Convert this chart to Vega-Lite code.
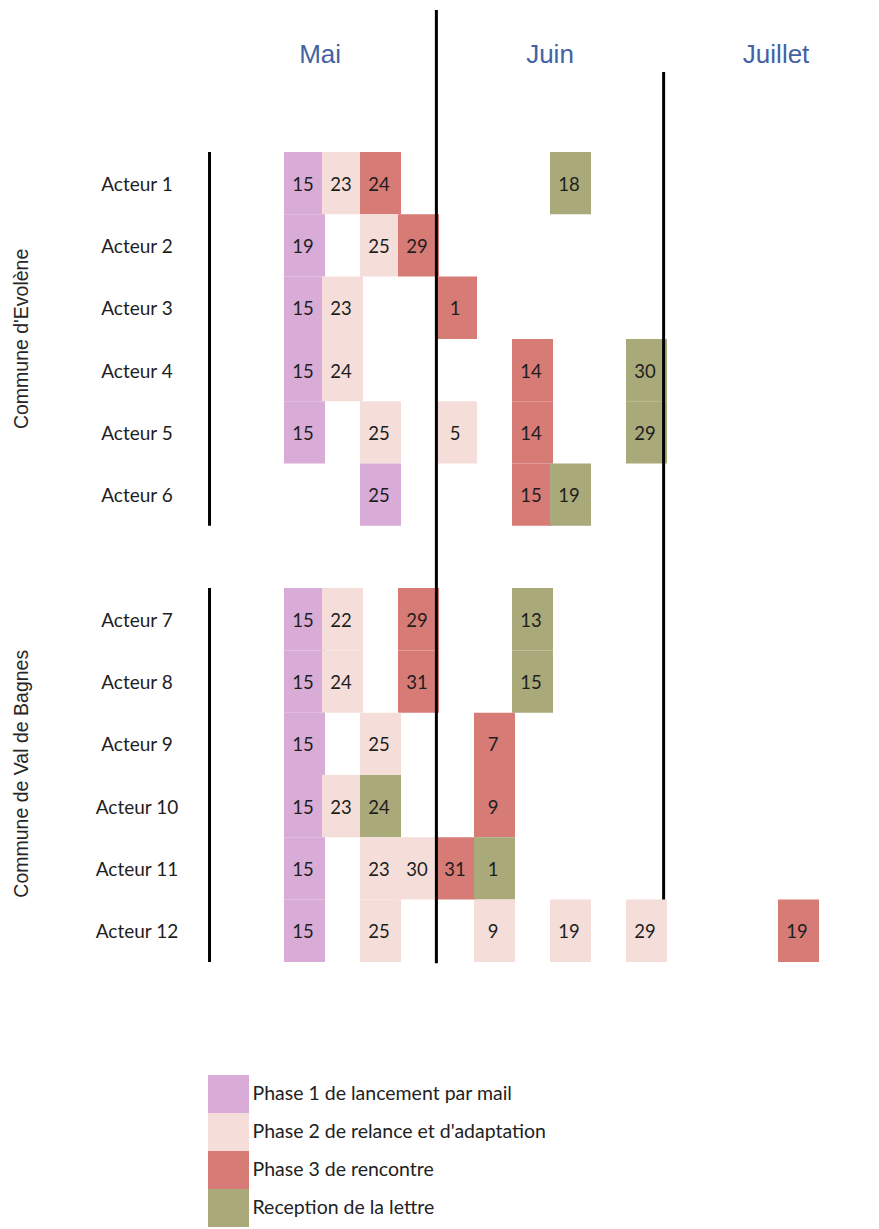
{
  "$schema": "https://vega.github.io/schema/vega-lite/v6.json",
  "width": 879,
  "height": 1229,
  "padding": 0,
  "autosize": {"type": "none"},
  "background": "white",
  "config": {
    "view": {"stroke": null},
    "legend": {
      "orient": "none",
      "legendX": 209.5,
      "legendY": 1075,
      "padding": 0,
      "title": null,
      "labelFont": "Lato",
      "labelFontSize": 19.5,
      "labelColor": "#222222",
      "labelOffset": 5,
      "labelLimit": 500,
      "symbolType": "M-1.079,-1H1.079V1H-1.079Z",
      "symbolSize": 1444,
      "symbolStrokeWidth": 0,
      "symbolOpacity": 1,
      "rowPadding": 0
    }
  },
  "datasets": {
    "cells": [
      {"acteur": "Acteur 1", "row": 0, "col": 0, "jour": 15, "phase": "Phase 1 de lancement par mail"},
      {"acteur": "Acteur 1", "row": 0, "col": 1, "jour": 23, "phase": "Phase 2 de relance et d'adaptation"},
      {"acteur": "Acteur 1", "row": 0, "col": 2, "jour": 24, "phase": "Phase 3 de rencontre"},
      {"acteur": "Acteur 1", "row": 0, "col": 7, "jour": 18, "phase": "Reception de la lettre"},
      {"acteur": "Acteur 2", "row": 1, "col": 0, "jour": 19, "phase": "Phase 1 de lancement par mail"},
      {"acteur": "Acteur 2", "row": 1, "col": 2, "jour": 25, "phase": "Phase 2 de relance et d'adaptation"},
      {"acteur": "Acteur 2", "row": 1, "col": 3, "jour": 29, "phase": "Phase 3 de rencontre"},
      {"acteur": "Acteur 3", "row": 2, "col": 0, "jour": 15, "phase": "Phase 1 de lancement par mail"},
      {"acteur": "Acteur 3", "row": 2, "col": 1, "jour": 23, "phase": "Phase 2 de relance et d'adaptation"},
      {"acteur": "Acteur 3", "row": 2, "col": 4, "jour": 1, "phase": "Phase 3 de rencontre"},
      {"acteur": "Acteur 4", "row": 3, "col": 0, "jour": 15, "phase": "Phase 1 de lancement par mail"},
      {"acteur": "Acteur 4", "row": 3, "col": 1, "jour": 24, "phase": "Phase 2 de relance et d'adaptation"},
      {"acteur": "Acteur 4", "row": 3, "col": 6, "jour": 14, "phase": "Phase 3 de rencontre"},
      {"acteur": "Acteur 4", "row": 3, "col": 9, "jour": 30, "phase": "Reception de la lettre"},
      {"acteur": "Acteur 5", "row": 4, "col": 0, "jour": 15, "phase": "Phase 1 de lancement par mail"},
      {"acteur": "Acteur 5", "row": 4, "col": 2, "jour": 25, "phase": "Phase 2 de relance et d'adaptation"},
      {"acteur": "Acteur 5", "row": 4, "col": 4, "jour": 5, "phase": "Phase 2 de relance et d'adaptation"},
      {"acteur": "Acteur 5", "row": 4, "col": 6, "jour": 14, "phase": "Phase 3 de rencontre"},
      {"acteur": "Acteur 5", "row": 4, "col": 9, "jour": 29, "phase": "Reception de la lettre"},
      {"acteur": "Acteur 6", "row": 5, "col": 2, "jour": 25, "phase": "Phase 1 de lancement par mail"},
      {"acteur": "Acteur 6", "row": 5, "col": 6, "jour": 15, "phase": "Phase 3 de rencontre"},
      {"acteur": "Acteur 6", "row": 5, "col": 7, "jour": 19, "phase": "Reception de la lettre"},
      {"acteur": "Acteur 7", "row": 7, "col": 0, "jour": 15, "phase": "Phase 1 de lancement par mail"},
      {"acteur": "Acteur 7", "row": 7, "col": 1, "jour": 22, "phase": "Phase 2 de relance et d'adaptation"},
      {"acteur": "Acteur 7", "row": 7, "col": 3, "jour": 29, "phase": "Phase 3 de rencontre"},
      {"acteur": "Acteur 7", "row": 7, "col": 6, "jour": 13, "phase": "Reception de la lettre"},
      {"acteur": "Acteur 8", "row": 8, "col": 0, "jour": 15, "phase": "Phase 1 de lancement par mail"},
      {"acteur": "Acteur 8", "row": 8, "col": 1, "jour": 24, "phase": "Phase 2 de relance et d'adaptation"},
      {"acteur": "Acteur 8", "row": 8, "col": 3, "jour": 31, "phase": "Phase 3 de rencontre"},
      {"acteur": "Acteur 8", "row": 8, "col": 6, "jour": 15, "phase": "Reception de la lettre"},
      {"acteur": "Acteur 9", "row": 9, "col": 0, "jour": 15, "phase": "Phase 1 de lancement par mail"},
      {"acteur": "Acteur 9", "row": 9, "col": 2, "jour": 25, "phase": "Phase 2 de relance et d'adaptation"},
      {"acteur": "Acteur 9", "row": 9, "col": 5, "jour": 7, "phase": "Phase 3 de rencontre"},
      {"acteur": "Acteur 10", "row": 10, "col": 0, "jour": 15, "phase": "Phase 1 de lancement par mail"},
      {"acteur": "Acteur 10", "row": 10, "col": 1, "jour": 23, "phase": "Phase 2 de relance et d'adaptation"},
      {"acteur": "Acteur 10", "row": 10, "col": 2, "jour": 24, "phase": "Reception de la lettre"},
      {"acteur": "Acteur 10", "row": 10, "col": 5, "jour": 9, "phase": "Phase 3 de rencontre"},
      {"acteur": "Acteur 11", "row": 11, "col": 0, "jour": 15, "phase": "Phase 1 de lancement par mail"},
      {"acteur": "Acteur 11", "row": 11, "col": 2, "jour": 23, "phase": "Phase 2 de relance et d'adaptation"},
      {"acteur": "Acteur 11", "row": 11, "col": 3, "jour": 30, "phase": "Phase 2 de relance et d'adaptation"},
      {"acteur": "Acteur 11", "row": 11, "col": 4, "jour": 31, "phase": "Phase 3 de rencontre"},
      {"acteur": "Acteur 11", "row": 11, "col": 5, "jour": 1, "phase": "Reception de la lettre"},
      {"acteur": "Acteur 12", "row": 12, "col": 0, "jour": 15, "phase": "Phase 1 de lancement par mail"},
      {"acteur": "Acteur 12", "row": 12, "col": 2, "jour": 25, "phase": "Phase 2 de relance et d'adaptation"},
      {"acteur": "Acteur 12", "row": 12, "col": 5, "jour": 9, "phase": "Phase 2 de relance et d'adaptation"},
      {"acteur": "Acteur 12", "row": 12, "col": 7, "jour": 19, "phase": "Phase 2 de relance et d'adaptation"},
      {"acteur": "Acteur 12", "row": 12, "col": 9, "jour": 29, "phase": "Phase 2 de relance et d'adaptation"},
      {"acteur": "Acteur 12", "row": 12, "col": 13, "jour": 19, "phase": "Phase 3 de rencontre"}
    ],
    "acteurs": [
      {"acteur": "Acteur 1", "row": 0, "col": -4.37},
      {"acteur": "Acteur 2", "row": 1, "col": -4.37},
      {"acteur": "Acteur 3", "row": 2, "col": -4.37},
      {"acteur": "Acteur 4", "row": 3, "col": -4.37},
      {"acteur": "Acteur 5", "row": 4, "col": -4.37},
      {"acteur": "Acteur 6", "row": 5, "col": -4.37},
      {"acteur": "Acteur 7", "row": 7, "col": -4.37},
      {"acteur": "Acteur 8", "row": 8, "col": -4.37},
      {"acteur": "Acteur 9", "row": 9, "col": -4.37},
      {"acteur": "Acteur 10", "row": 10, "col": -4.37},
      {"acteur": "Acteur 11", "row": 11, "col": -4.37},
      {"acteur": "Acteur 12", "row": 12, "col": -4.37}
    ],
    "groupes": [
      {"commune": "Commune d'Evolène", "row": 2.5, "col": -7.39},
      {"commune": "Commune de Val de Bagnes", "row": 9.48, "col": -7.39}
    ],
    "mois": [
      {"mois": "Mai", "row": -2.05, "col": 0.45},
      {"mois": "Juin", "row": -2.05, "col": 6.5},
      {"mois": "Juillet", "row": -2.05, "col": 12.45}
    ],
    "lignes": [
      {"col": -2.46, "row": -0.5, "row2": 5.5},
      {"col": -2.46, "row": 6.5, "row2": 12.5},
      {"col": 3.51, "row": -2.78, "row2": 12.52},
      {"col": 9.49, "row": -1.784, "row2": 11.5}
    ]
  },
  "encoding": {
    "x": {"field": "col", "type": "quantitative", "axis": null, "scale": {"domain": [-7.974, 15.158], "nice": false, "zero": false}},
    "y": {"field": "row", "type": "quantitative", "axis": null, "scale": {"domain": [-2.9398, 16.787], "nice": false, "zero": false, "reverse": true}}
  },
  "layer": [
    {
      "data": {"name": "cells"},
      "mark": {"type": "rect", "width": 41, "height": 62.3, "xOffset": 1.5, "strokeWidth": 0},
      "encoding": {
        "color": {
          "field": "phase",
          "type": "nominal",
          "scale": {
            "domain": ["Phase 1 de lancement par mail", "Phase 2 de relance et d'adaptation", "Phase 3 de rencontre", "Reception de la lettre"],
            "range": ["#D8ACD6", "#F5DED9", "#D77B77", "#A9A97A"]
          },
          "legend": {"rowPadding": 0, "symbolType": "M-1.079,-1H1.079V1H-1.079Z", "symbolSize": 1444}
        }
      }
    },
    {
      "data": {"name": "cells"},
      "mark": {"type": "text", "font": "Lato", "fontSize": 18.5, "color": "#1e1e1e", "align": "center", "baseline": "middle", "dy": 1.5},
      "encoding": {"text": {"field": "jour", "type": "quantitative"}}
    },
    {
      "data": {"name": "lignes"},
      "mark": {"type": "rule", "color": "black", "strokeWidth": 3},
      "encoding": {"y2": {"field": "row2"}}
    },
    {
      "data": {"name": "acteurs"},
      "mark": {"type": "text", "font": "Lato", "fontSize": 19, "color": "#1e1e1e", "align": "center", "baseline": "middle", "dy": 1.5},
      "encoding": {"text": {"field": "acteur", "type": "nominal"}}
    },
    {
      "data": {"name": "groupes"},
      "mark": {"type": "text", "font": "Liberation Sans", "fontSize": 19.5, "color": "#262626", "align": "center", "baseline": "middle", "angle": 270},
      "encoding": {"text": {"field": "commune", "type": "nominal"}}
    },
    {
      "data": {"name": "mois"},
      "mark": {"type": "text", "font": "Liberation Sans", "fontSize": 26, "color": "#4262A5", "align": "center", "baseline": "middle"},
      "encoding": {"text": {"field": "mois", "type": "nominal"}}
    }
  ]
}
